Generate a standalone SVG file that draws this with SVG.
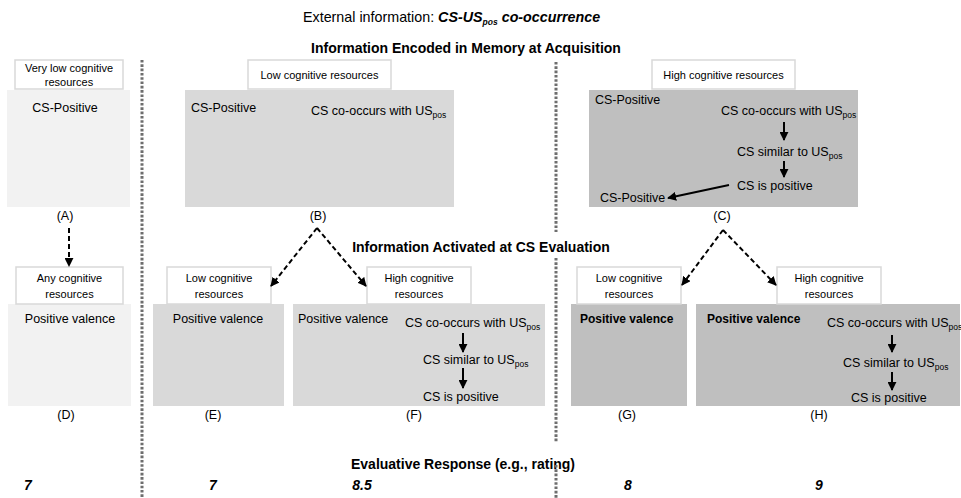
<svg xmlns="http://www.w3.org/2000/svg" width="961" height="498" viewBox="0 0 961 498">
<style>
text{font-family:"Liberation Sans",Arial,sans-serif;fill:#000}
.lbl{fill:#fff;stroke:#d9d9d9;stroke-width:1.5}
.l1{fill:#f2f2f2}
.l2{fill:#d9d9d9}
.l3{fill:#bfbfbf}
.s{font-size:11px}
.t{font-size:12.5px}
.tb{font-size:12px;font-weight:bold}
.h{font-size:14px;font-weight:bold}
.n{font-size:14px;font-weight:bold;font-style:italic}
.sub{font-size:8.5px}
.dot{stroke:#6e6e6e;stroke-width:3;stroke-dasharray:2.6 1.7;fill:none}
.dash{stroke:#000;stroke-width:2;stroke-dasharray:5 3;fill:none}
.sol{stroke:#000;stroke-width:2;fill:none}
</style>
<defs>
<marker id="ah" viewBox="0 0 10 10" refX="9" refY="5" markerWidth="4.5" markerHeight="4.5" orient="auto" markerUnits="strokeWidth">
<path d="M0,0 L10,5 L0,10 z" fill="#000"/>
</marker>
</defs>

<g id="headings">
<text x="303" y="22" style="font-size:14.3px">External information: <tspan font-weight="bold" font-style="italic">CS-US</tspan><tspan font-weight="bold" font-style="italic" class="sub" dy="3">pos</tspan><tspan font-weight="bold" font-style="italic" dy="-3"> co-occurrence</tspan></text>
<text class="h" x="466" y="53" text-anchor="middle">Information Encoded in Memory at Acquisition</text>
<text class="h" x="481" y="252" text-anchor="middle">Information Activated at CS Evaluation</text>
<text class="h" x="463" y="469" text-anchor="middle">Evaluative Response (e.g., rating)</text>
</g>

<g id="separators">
<line class="dot" x1="142" y1="60" x2="142" y2="498"/>
<line class="dot" x1="556" y1="62" x2="556" y2="232"/>
<line class="dot" x1="556" y1="258" x2="556" y2="443"/>
<line class="dot" x1="556" y1="465" x2="556" y2="498"/>
</g>

<g id="nodeA">
<rect class="l1" x="7" y="90" width="123" height="117"/>
<rect class="lbl" x="15" y="60" width="108" height="29"/>
<text class="s" x="69" y="72" text-anchor="middle">Very low cognitive</text>
<text class="s" x="69" y="86" text-anchor="middle">resources</text>
<text class="t" x="65" y="112" text-anchor="middle">CS-Positive</text>
<text class="t" x="65" y="220" text-anchor="middle">(A)</text>
</g>

<g id="nodeB">
<rect class="l2" x="185" y="90" width="269" height="117"/>
<rect class="lbl" x="248" y="60" width="143" height="29"/>
<text class="s" x="319.5" y="79" text-anchor="middle">Low cognitive resources</text>
<text class="t" x="191" y="112">CS-Positive</text>
<text class="t" x="311" y="115">CS co-occurs with US<tspan class="sub" dy="3">pos</tspan></text>
<text class="t" x="318" y="220" text-anchor="middle">(B)</text>
</g>

<g id="nodeC">
<rect class="l3" x="589" y="90" width="269" height="117"/>
<rect class="lbl" x="652" y="60" width="143" height="29"/>
<text class="s" x="723.5" y="79" text-anchor="middle">High cognitive resources</text>
<text class="t" x="595" y="104">CS-Positive</text>
<text class="t" x="721" y="115">CS co-occurs with US<tspan class="sub" dy="3">pos</tspan></text>
<text class="t" x="737" y="156">CS similar to US<tspan class="sub" dy="3">pos</tspan></text>
<text class="t" x="737" y="190">CS is positive</text>
<text class="t" x="600" y="202">CS-Positive</text>
<text class="t" x="722" y="220" text-anchor="middle">(C)</text>
</g>

<g id="nodeD">
<rect class="l1" x="8" y="304" width="123" height="102"/>
<rect class="lbl" x="16" y="267" width="107" height="37"/>
<text class="s" x="69.5" y="282" text-anchor="middle">Any cognitive</text>
<text class="s" x="69.5" y="298" text-anchor="middle">resources</text>
<text class="t" x="70" y="323" text-anchor="middle">Positive valence</text>
<text class="t" x="66" y="419" text-anchor="middle">(D)</text>
</g>

<g id="nodeE">
<rect class="l2" x="153" y="304" width="131" height="102"/>
<rect class="lbl" x="167" y="267" width="104" height="37"/>
<text class="s" x="219" y="282" text-anchor="middle">Low cognitive</text>
<text class="s" x="219" y="298" text-anchor="middle">resources</text>
<text class="t" x="218" y="323" text-anchor="middle">Positive valence</text>
<text class="t" x="213" y="419" text-anchor="middle">(E)</text>
</g>

<g id="nodeF">
<rect class="l2" x="293" y="304" width="252" height="102"/>
<rect class="lbl" x="367" y="267" width="104" height="37"/>
<text class="s" x="419" y="282" text-anchor="middle">High cognitive</text>
<text class="s" x="419" y="298" text-anchor="middle">resources</text>
<text class="t" x="298" y="323">Positive valence</text>
<text class="t" x="405" y="327">CS co-occurs with US<tspan class="sub" dy="3">pos</tspan></text>
<text class="t" x="423" y="364">CS similar to US<tspan class="sub" dy="3">pos</tspan></text>
<text class="t" x="423" y="401">CS is positive</text>
<text class="t" x="414" y="419" text-anchor="middle">(F)</text>
</g>

<g id="nodeG">
<rect class="l3" x="571" y="304" width="116" height="102"/>
<rect class="lbl" x="577" y="267" width="104" height="37"/>
<text class="s" x="629" y="282" text-anchor="middle">Low cognitive</text>
<text class="s" x="629" y="298" text-anchor="middle">resources</text>
<text class="tb" x="580" y="323">Positive valence</text>
<text class="t" x="627" y="419" text-anchor="middle">(G)</text>
</g>

<g id="nodeH">
<rect class="l3" x="696" y="304" width="264" height="102"/>
<rect class="lbl" x="777" y="267" width="104" height="37"/>
<text class="s" x="829" y="282" text-anchor="middle">High cognitive</text>
<text class="s" x="829" y="298" text-anchor="middle">resources</text>
<text class="tb" x="707" y="323">Positive valence</text>
<text class="t" x="827" y="327">CS co-occurs with US<tspan class="sub" dy="3">pos</tspan></text>
<text class="t" x="843" y="367">CS similar to US<tspan class="sub" dy="3">pos</tspan></text>
<text class="t" x="851" y="402">CS is positive</text>
<text class="t" x="819" y="419" text-anchor="middle">(H)</text>
</g>

<g id="ratings">
<text class="n" x="28" y="490" text-anchor="middle">7</text>
<text class="n" x="213" y="490" text-anchor="middle">7</text>
<text class="n" x="362" y="490" text-anchor="middle">8.5</text>
<text class="n" x="628" y="490" text-anchor="middle">8</text>
<text class="n" x="819" y="490" text-anchor="middle">9</text>
</g>

<g id="connectors">
<line class="dash" x1="69" y1="228" x2="69" y2="266" marker-end="url(#ah)"/>
<line class="dash" x1="317" y1="228" x2="271" y2="286" marker-end="url(#ah)"/>
<line class="dash" x1="317" y1="228" x2="366" y2="286" marker-end="url(#ah)"/>
<line class="dash" x1="723" y1="230" x2="682" y2="285" marker-end="url(#ah)"/>
<line class="dash" x1="723" y1="230" x2="776" y2="285" marker-end="url(#ah)"/>
<line class="sol" x1="784" y1="122" x2="784" y2="140" marker-end="url(#ah)"/>
<line class="sol" x1="784" y1="161" x2="784" y2="177" marker-end="url(#ah)"/>
<line class="sol" x1="729" y1="185" x2="668" y2="198" marker-end="url(#ah)"/>
<line class="sol" x1="463" y1="333" x2="463" y2="352" marker-end="url(#ah)"/>
<line class="sol" x1="463" y1="368" x2="463" y2="388" marker-end="url(#ah)"/>
<line class="sol" x1="892" y1="335" x2="892" y2="352" marker-end="url(#ah)"/>
<line class="sol" x1="892" y1="372" x2="892" y2="390" marker-end="url(#ah)"/>
</g>
</svg>
